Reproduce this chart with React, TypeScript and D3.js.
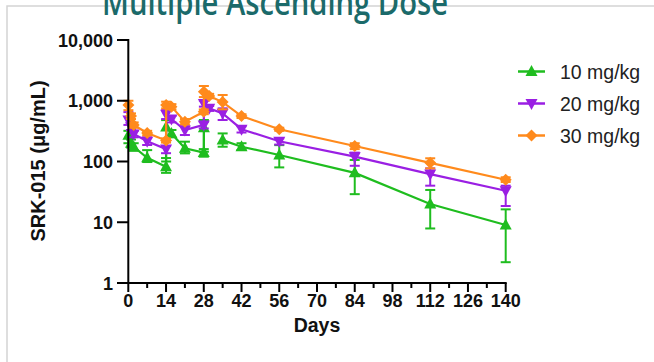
import * as d3 from "d3"

// Días de muestreo (comunes a las tres dosis)
const dias = [0.04, 1, 2, 7, 14, 14.04, 16, 21, 28, 28.04, 30, 35, 42, 56, 84, 112, 140]

// Concentraciones medias (µg/mL); null = sin muestra
const dosis10: (number | null)[] = [270, 200, 175, 115, 82, 370, 290, 165, 140, 360, null, 225, 175, 128, 65, 20, 9]
const dosis20: (number | null)[] = [480, 374, 284, 215, 160, 600, 500, 330, 400, 900, 750, 620, 340, 215, 120, 62, 33]
const dosis30: (number | null)[] = [850, 560, 400, 295, 222, 850, 800, 452, 660, 1400, 1200, 950, 560, 340, 180, 95, 50]

// Barras de error: límite superior / inferior
const sup10: (number | null)[] = [320, 230, 200, 154, 114, 480, 330, 212, 160, 482, null, 290, 200, 186, 106, 34, 16.3]
const inf10: (number | null)[] = [200, 170, 150, 98, 65, 100, 250, 136, 120, 145, null, 175, 155, 80, 29, 7.9, 2.2]
const sup20: (number | null)[] = [650, 420, 320, 250, 180, 700, 560, 380, 450, 1000, 820, 750, 380, 240, 140, 77, 40]
const inf20: (number | null)[] = [400, 330, 250, 187, 137, 500, 440, 273, 350, 800, 680, 482, 300, 190, 85, 40, 18.5]
const sup30: (number | null)[] = [1000, 620, 440, 320, 240, 965, 880, 500, 720, 1750, 1300, 1244, 600, 360, 200, 113, 55]
const inf30: (number | null)[] = [700, 500, 360, 270, 205, 750, 720, 410, 600, 1150, 1100, 723, 520, 320, 160, 77, 46]

const series = [
  { nombre: "10 mg/kg", color: "#1fbd1f", valores: dosis10, sup: sup10, inf: inf10, simbolo: "up" },
  { nombre: "20 mg/kg", color: "#9a1fe3", valores: dosis20, sup: sup20, inf: inf20, simbolo: "down" },
  { nombre: "30 mg/kg", color: "#ff8a1c", valores: dosis30, sup: sup30, inf: inf30, simbolo: "diamond" },
]

const ticksX = [0, 14, 28, 42, 56, 70, 84, 98, 112, 126, 140]
const ticksXMenores = [7, 21, 35, 49, 63, 77, 91, 105, 119, 133]
const ticksY = [1, 10, 100, 1000, 10000]

const fuente = "'Liberation Sans', Arial, sans-serif"

function Simbolo({ tipo, x, y, color }: { tipo: string; x: number; y: number; color: string }) {
  if (tipo === "up") {
    return <path d={`M${x},${y - 6.5}L${x + 6},${y + 4.5}L${x - 6},${y + 4.5}Z`} fill={color} />
  }
  if (tipo === "down") {
    return <path d={`M${x},${y + 6.5}L${x + 6},${y - 4.5}L${x - 6},${y - 4.5}Z`} fill={color} />
  }
  return <path d={`M${x},${y - 6}L${x + 6},${y}L${x},${y + 6}L${x - 6},${y}Z`} fill={color} />
}

export default function App() {
  const x = d3.scaleLinear().domain([0, 140]).range([128.3, 505.7])
  const y = d3.scaleLog().domain([1, 10000]).range([283, 40])
  const formato = d3.format(",")

  const linea = d3
    .line<[number, number | null]>()
    .defined((d) => d[1] !== null)
    .x((d) => x(d[0]))
    .y((d) => y(d[1] as number))

  return (
    <svg width={654} height={362} style={{ position: "absolute", left: 0, top: 0, background: "#fff" }}>
      {/* marco */}
      <path d="M7,370V6H660" fill="none" stroke="#d4d4d4" strokeWidth={1.5} />

      <text
        x={275}
        y={15}
        textAnchor="middle"
        fontFamily="'Open Sans', sans-serif"
        fontWeight={600}
        fontSize={36}
        fill="#1b6a6a"
        textLength={346}
        lengthAdjust="spacingAndGlyphs"
      >
        Multiple Ascending Dose
      </text>

      {/* series */}
      {series.map((s) => {
        const pares = dias.map((d, i) => [d, s.valores[i]] as [number, number | null])
        return (
          <g key={s.nombre}>
            {dias.map((d, i) => {
              const hi = s.sup[i]
              const lo = s.inf[i]
              if (hi === null || lo === null) return null
              const cx = x(d)
              return (
                <g key={i} stroke={s.color} strokeWidth={2}>
                  <line x1={cx} x2={cx} y1={y(hi)} y2={y(lo)} />
                  <line x1={cx - 5} x2={cx + 5} y1={y(hi)} y2={y(hi)} />
                  <line x1={cx - 5} x2={cx + 5} y1={y(lo)} y2={y(lo)} />
                </g>
              )
            })}
            <path d={linea(pares) || ""} fill="none" stroke={s.color} strokeWidth={2.2} />
            {pares.map((p, i) =>
              p[1] === null ? null : <Simbolo key={i} tipo={s.simbolo} x={x(p[0])} y={y(p[1])} color={s.color} />
            )}
          </g>
        )
      })}

      {/* eje Y */}
      <g stroke="#000" strokeWidth={2}>
        <line x1={128.3} x2={128.3} y1={y(10000) - 1} y2={y(1)} />
        {ticksY.map((t) => (
          <line key={t} x1={117} x2={128.3} y1={y(t)} y2={y(t)} />
        ))}
      </g>
      {ticksY.map((t) => (
        <text
          key={t}
          x={113}
          y={y(t) + 6.5}
          textAnchor="end"
          fontFamily={fuente}
          fontWeight="bold"
          fontSize={18}
          fill="#111"
        >
          {formato(t)}
        </text>
      ))}

      {/* eje X */}
      <g stroke="#000" strokeWidth={2}>
        <line x1={127.3} x2={x(140) + 1} y1={y(1)} y2={y(1)} />
        {ticksX.map((t) => (
          <line key={t} x1={x(t)} x2={x(t)} y1={y(1)} y2={y(1) + 9} />
        ))}
        {ticksXMenores.map((t) => (
          <line key={t} x1={x(t)} x2={x(t)} y1={y(1)} y2={y(1) + 5} />
        ))}
      </g>
      {ticksX.map((t) => (
        <text
          key={t}
          x={x(t)}
          y={306.5}
          textAnchor="middle"
          fontFamily={fuente}
          fontWeight="bold"
          fontSize={18}
          fill="#111"
        >
          {t}
        </text>
      ))}

      <text x={317} y={332} textAnchor="middle" fontFamily={fuente} fontWeight="bold" fontSize={19.5} fill="#111">
        Days
      </text>
      <text
        transform="translate(45,161) rotate(-90)"
        textAnchor="middle"
        fontFamily={fuente}
        fontWeight="bold"
        fontSize={20}
        fill="#111"
      >
        SRK-015 (μg/mL)
      </text>

      {/* leyenda */}
      {series.map((s, i) => {
        const ly = 71.5 + i * 32
        return (
          <g key={s.nombre}>
            <line x1={518} x2={545} y1={ly} y2={ly} stroke={s.color} strokeWidth={2.5} />
            <Simbolo tipo={s.simbolo} x={531.5} y={ly} color={s.color} />
            <text x={560} y={ly + 7} fontFamily={fuente} fontSize={19.5} fill="#222">
              {s.nombre}
            </text>
          </g>
        )
      })}
    </svg>
  )
}
